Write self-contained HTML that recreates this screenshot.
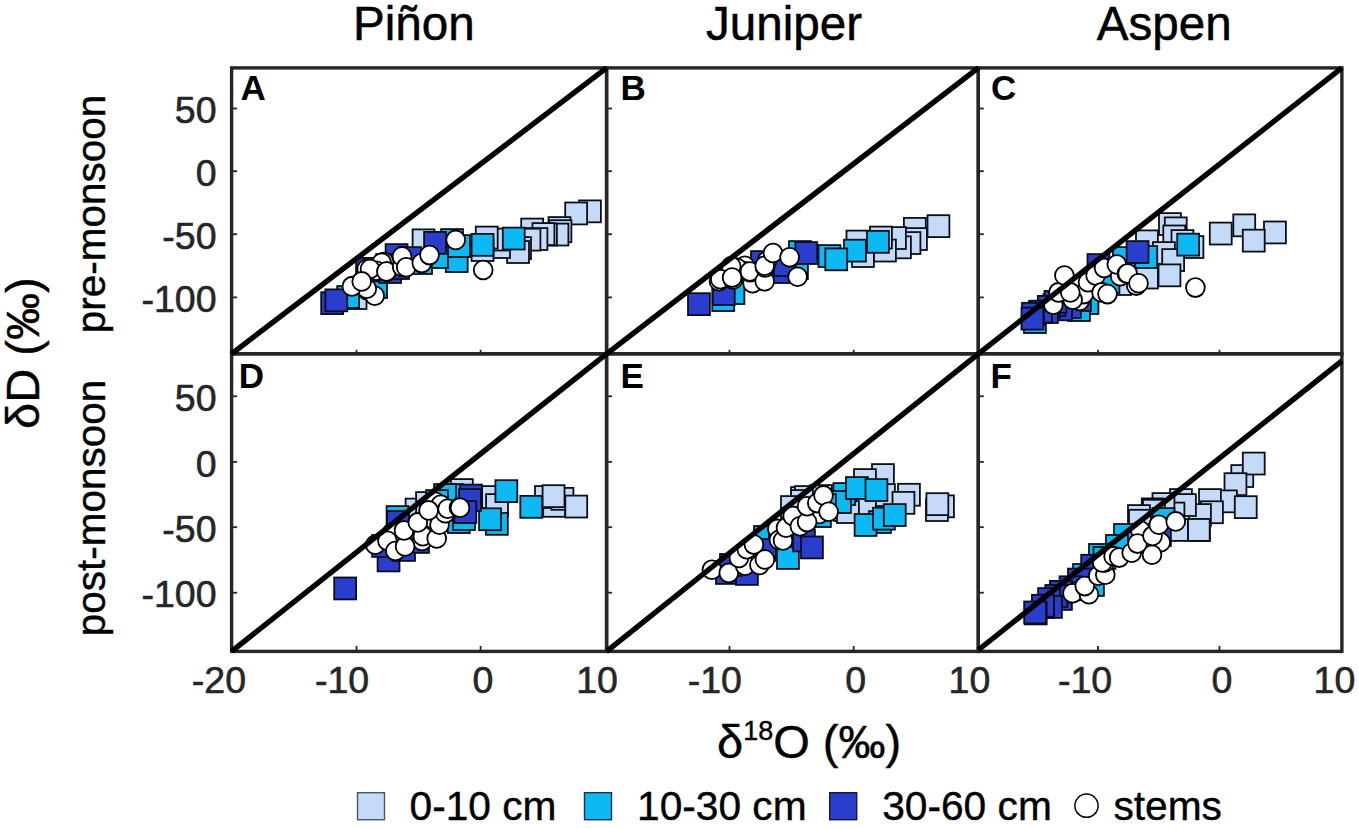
<!DOCTYPE html>
<html><head><meta charset="utf-8"><title>Figure</title>
<style>html,body{margin:0;padding:0;background:#fff;width:1359px;height:828px;overflow:hidden}svg{display:block}</style>
</head><body>
<svg width="1359" height="828" viewBox="0 0 1359 828">
<rect width="1359" height="828" fill="#fff"/>
<defs>
<clipPath id="cp00"><rect x="231.6" y="67.9" width="375.0" height="285.9"/></clipPath>
<clipPath id="cp01"><rect x="606.6" y="67.9" width="371.69999999999993" height="285.9"/></clipPath>
<clipPath id="cp02"><rect x="978.3" y="67.9" width="363.60000000000014" height="285.9"/></clipPath>
<clipPath id="cp10"><rect x="231.6" y="353.8" width="375.0" height="297.59999999999997"/></clipPath>
<clipPath id="cp11"><rect x="606.6" y="353.8" width="371.69999999999993" height="297.59999999999997"/></clipPath>
<clipPath id="cp12"><rect x="978.3" y="353.8" width="363.60000000000014" height="297.59999999999997"/></clipPath>
</defs>
<g clip-path="url(#cp00)" stroke="#0a0e18" stroke-width="1.8">
<rect x="579.0" y="200.4" width="21.9" height="21.9" fill="#c5daf7"/>
<rect x="565.2" y="202.5" width="21.9" height="21.9" fill="#c5daf7"/>
<rect x="548.5" y="217.1" width="21.9" height="21.9" fill="#c5daf7"/>
<rect x="549.5" y="220.2" width="21.9" height="21.9" fill="#c5daf7"/>
<rect x="546.5" y="223.6" width="21.9" height="21.9" fill="#c5daf7"/>
<rect x="535.0" y="223.6" width="21.9" height="21.9" fill="#c5daf7"/>
<rect x="521.2" y="218.6" width="21.9" height="21.9" fill="#c5daf7"/>
<rect x="532.5" y="223.1" width="21.9" height="21.9" fill="#c5daf7"/>
<rect x="525.5" y="228.1" width="21.9" height="21.9" fill="#c5daf7"/>
<rect x="518.5" y="228.7" width="21.9" height="21.9" fill="#c5daf7"/>
<rect x="509.1" y="237.1" width="21.9" height="21.9" fill="#c5daf7"/>
<rect x="507.1" y="241.1" width="21.9" height="21.9" fill="#c5daf7"/>
<rect x="488.1" y="236.1" width="21.9" height="21.9" fill="#c5daf7"/>
<rect x="486.1" y="228.6" width="21.9" height="21.9" fill="#c5daf7"/>
<rect x="475.8" y="226.6" width="21.9" height="21.9" fill="#c5daf7"/>
<rect x="471.6" y="239.1" width="21.9" height="21.9" fill="#c5daf7"/>
<rect x="412.6" y="229.4" width="21.9" height="21.9" fill="#c5daf7"/>
<rect x="344.6" y="287.1" width="21.9" height="21.9" fill="#c5daf7"/>
<rect x="502.8" y="227.6" width="21.9" height="21.9" fill="#0db9f2"/>
<rect x="471.6" y="233.9" width="21.9" height="21.9" fill="#0db9f2"/>
<rect x="445.8" y="250.1" width="21.9" height="21.9" fill="#0db9f2"/>
<rect x="441.1" y="229.1" width="21.9" height="21.9" fill="#0db9f2"/>
<rect x="448.1" y="235.1" width="21.9" height="21.9" fill="#0db9f2"/>
<rect x="426.1" y="246.1" width="21.9" height="21.9" fill="#0db9f2"/>
<rect x="410.1" y="252.1" width="21.9" height="21.9" fill="#0db9f2"/>
<rect x="337.2" y="286.1" width="21.9" height="21.9" fill="#0db9f2"/>
<rect x="365.1" y="276.1" width="21.9" height="21.9" fill="#0db9f2"/>
<rect x="424.1" y="231.9" width="21.9" height="21.9" fill="#2b3dcc"/>
<rect x="385.6" y="244.1" width="21.9" height="21.9" fill="#2b3dcc"/>
<rect x="376.1" y="254.1" width="21.9" height="21.9" fill="#2b3dcc"/>
<rect x="399.1" y="247.1" width="21.9" height="21.9" fill="#2b3dcc"/>
<rect x="356.1" y="257.9" width="21.9" height="21.9" fill="#2b3dcc"/>
<rect x="321.2" y="292.2" width="21.9" height="21.9" fill="#2b3dcc"/>
<rect x="325.4" y="289.4" width="21.9" height="21.9" fill="#2b3dcc"/>
<rect x="379.1" y="261.1" width="21.9" height="21.9" fill="#2b3dcc"/>
<rect x="387.1" y="257.1" width="21.9" height="21.9" fill="#2b3dcc"/>
<circle cx="353.7" cy="285.7" r="9.4" fill="#fff" stroke="#000"/>
<circle cx="366.7" cy="290" r="9.4" fill="#fff" stroke="#000"/>
<circle cx="374.7" cy="295.8" r="9.4" fill="#fff" stroke="#000"/>
<circle cx="366.7" cy="269.1" r="9.4" fill="#fff" stroke="#000"/>
<circle cx="375.4" cy="272" r="9.4" fill="#fff" stroke="#000"/>
<circle cx="384" cy="262" r="9.4" fill="#fff" stroke="#000"/>
<circle cx="381.7" cy="262.8" r="9.4" fill="#fff" stroke="#000"/>
<circle cx="376.2" cy="270.7" r="9.4" fill="#fff" stroke="#000"/>
<circle cx="370" cy="269" r="9.4" fill="#fff" stroke="#000"/>
<circle cx="366.8" cy="288.8" r="9.4" fill="#fff" stroke="#000"/>
<circle cx="351.9" cy="286.4" r="9.4" fill="#fff" stroke="#000"/>
<circle cx="361.7" cy="281.4" r="9.4" fill="#fff" stroke="#000"/>
<circle cx="387" cy="271.6" r="9.4" fill="#fff" stroke="#000"/>
<circle cx="386.4" cy="271.5" r="9.4" fill="#fff" stroke="#000"/>
<circle cx="402.2" cy="266.9" r="9.4" fill="#fff" stroke="#000"/>
<circle cx="402" cy="256.5" r="9.4" fill="#fff" stroke="#000"/>
<circle cx="406.2" cy="267.3" r="9.4" fill="#fff" stroke="#000"/>
<circle cx="421.8" cy="263.1" r="9.4" fill="#fff" stroke="#000"/>
<circle cx="429.5" cy="255.1" r="9.4" fill="#fff" stroke="#000"/>
<circle cx="455.7" cy="239.9" r="9.4" fill="#fff" stroke="#000"/>
<circle cx="483.2" cy="270" r="9.4" fill="#fff" stroke="#000"/>
</g>
<g clip-path="url(#cp01)" stroke="#0a0e18" stroke-width="1.8">
<rect x="927.5" y="215.2" width="21.9" height="21.9" fill="#c5daf7"/>
<rect x="903.9" y="217.9" width="21.9" height="21.9" fill="#c5daf7"/>
<rect x="905.0" y="228.1" width="21.9" height="21.9" fill="#c5daf7"/>
<rect x="898.5" y="232.1" width="21.9" height="21.9" fill="#c5daf7"/>
<rect x="889.0" y="236.4" width="21.9" height="21.9" fill="#c5daf7"/>
<rect x="884.0" y="227.1" width="21.9" height="21.9" fill="#c5daf7"/>
<rect x="874.0" y="239.6" width="21.9" height="21.9" fill="#c5daf7"/>
<rect x="870.0" y="226.6" width="21.9" height="21.9" fill="#c5daf7"/>
<rect x="846.5" y="230.6" width="21.9" height="21.9" fill="#c5daf7"/>
<rect x="852.0" y="245.1" width="21.9" height="21.9" fill="#c5daf7"/>
<rect x="867.0" y="230.9" width="21.9" height="21.9" fill="#0db9f2"/>
<rect x="844.0" y="239.7" width="21.9" height="21.9" fill="#0db9f2"/>
<rect x="818.5" y="245.1" width="21.9" height="21.9" fill="#0db9f2"/>
<rect x="825.3" y="248.4" width="21.9" height="21.9" fill="#0db9f2"/>
<rect x="786.0" y="257.1" width="21.9" height="21.9" fill="#0db9f2"/>
<rect x="712.3" y="289.1" width="21.9" height="21.9" fill="#0db9f2"/>
<rect x="722.5" y="282.1" width="21.9" height="21.9" fill="#0db9f2"/>
<rect x="789.0" y="241.1" width="21.9" height="21.9" fill="#0db9f2"/>
<rect x="688.0" y="293.2" width="21.9" height="21.9" fill="#2b3dcc"/>
<rect x="712.8" y="283.1" width="21.9" height="21.9" fill="#2b3dcc"/>
<rect x="795.3" y="242.1" width="21.9" height="21.9" fill="#2b3dcc"/>
<rect x="751.0" y="251.1" width="21.9" height="21.9" fill="#2b3dcc"/>
<rect x="770.0" y="261.1" width="21.9" height="21.9" fill="#2b3dcc"/>
<rect x="774.0" y="254.1" width="21.9" height="21.9" fill="#2b3dcc"/>
<circle cx="735.7" cy="267.6" r="9.4" fill="#fff" stroke="#000"/>
<circle cx="744.8" cy="265.8" r="9.4" fill="#fff" stroke="#000"/>
<circle cx="744" cy="271" r="9.4" fill="#fff" stroke="#000"/>
<circle cx="737" cy="268" r="9.4" fill="#fff" stroke="#000"/>
<circle cx="731.2" cy="266.2" r="9.4" fill="#fff" stroke="#000"/>
<circle cx="719" cy="281.2" r="9.4" fill="#fff" stroke="#000"/>
<circle cx="720.3" cy="279.2" r="9.4" fill="#fff" stroke="#000"/>
<circle cx="733" cy="279.4" r="9.4" fill="#fff" stroke="#000"/>
<circle cx="732.1" cy="277.6" r="9.4" fill="#fff" stroke="#000"/>
<circle cx="753.8" cy="279.4" r="9.4" fill="#fff" stroke="#000"/>
<circle cx="752.6" cy="283.2" r="9.4" fill="#fff" stroke="#000"/>
<circle cx="750.2" cy="272.2" r="9.4" fill="#fff" stroke="#000"/>
<circle cx="749.9" cy="271.6" r="9.4" fill="#fff" stroke="#000"/>
<circle cx="764.7" cy="281.2" r="9.4" fill="#fff" stroke="#000"/>
<circle cx="765.1" cy="267.4" r="9.4" fill="#fff" stroke="#000"/>
<circle cx="766.8" cy="261.1" r="9.4" fill="#fff" stroke="#000"/>
<circle cx="764.7" cy="265.8" r="9.4" fill="#fff" stroke="#000"/>
<circle cx="773" cy="253" r="9.4" fill="#fff" stroke="#000"/>
<circle cx="789.6" cy="257.3" r="9.4" fill="#fff" stroke="#000"/>
<circle cx="797.6" cy="276.8" r="9.4" fill="#fff" stroke="#000"/>
</g>
<g clip-path="url(#cp02)" stroke="#0a0e18" stroke-width="1.8">
<rect x="1159.0" y="213.1" width="21.9" height="21.9" fill="#c5daf7"/>
<rect x="1164.8" y="217.4" width="21.9" height="21.9" fill="#c5daf7"/>
<rect x="1163.3" y="225.5" width="21.9" height="21.9" fill="#c5daf7"/>
<rect x="1136.0" y="230.4" width="21.9" height="21.9" fill="#c5daf7"/>
<rect x="1171.5" y="230.1" width="21.9" height="21.9" fill="#c5daf7"/>
<rect x="1181.5" y="236.1" width="21.9" height="21.9" fill="#c5daf7"/>
<rect x="1153.0" y="242.1" width="21.9" height="21.9" fill="#c5daf7"/>
<rect x="1162.2" y="249.1" width="21.9" height="21.9" fill="#c5daf7"/>
<rect x="1158.5" y="264.4" width="21.9" height="21.9" fill="#c5daf7"/>
<rect x="1136.0" y="266.6" width="21.9" height="21.9" fill="#c5daf7"/>
<rect x="1109.0" y="273.1" width="21.9" height="21.9" fill="#c5daf7"/>
<rect x="1209.8" y="222.6" width="21.9" height="21.9" fill="#c5daf7"/>
<rect x="1233.3" y="214.4" width="21.9" height="21.9" fill="#c5daf7"/>
<rect x="1264.0" y="221.5" width="21.9" height="21.9" fill="#c5daf7"/>
<rect x="1242.8" y="229.7" width="21.9" height="21.9" fill="#c5daf7"/>
<rect x="1177.2" y="233.7" width="21.9" height="21.9" fill="#0db9f2"/>
<rect x="1135.3" y="246.1" width="21.9" height="21.9" fill="#0db9f2"/>
<rect x="1113.0" y="247.1" width="21.9" height="21.9" fill="#0db9f2"/>
<rect x="1097.5" y="271.1" width="21.9" height="21.9" fill="#0db9f2"/>
<rect x="1076.5" y="292.1" width="21.9" height="21.9" fill="#0db9f2"/>
<rect x="1068.0" y="299.1" width="21.9" height="21.9" fill="#0db9f2"/>
<rect x="1024.0" y="311.1" width="21.9" height="21.9" fill="#0db9f2"/>
<rect x="1126.6" y="241.1" width="21.9" height="21.9" fill="#2b3dcc"/>
<rect x="1087.5" y="254.1" width="21.9" height="21.9" fill="#2b3dcc"/>
<rect x="1069.0" y="289.1" width="21.9" height="21.9" fill="#2b3dcc"/>
<rect x="1059.0" y="296.1" width="21.9" height="21.9" fill="#2b3dcc"/>
<rect x="1050.2" y="298.4" width="21.9" height="21.9" fill="#2b3dcc"/>
<rect x="1043.5" y="294.1" width="21.9" height="21.9" fill="#2b3dcc"/>
<rect x="1044.5" y="290.9" width="21.9" height="21.9" fill="#2b3dcc"/>
<rect x="1037.8" y="295.9" width="21.9" height="21.9" fill="#2b3dcc"/>
<rect x="1036.0" y="301.1" width="21.9" height="21.9" fill="#2b3dcc"/>
<rect x="1029.0" y="301.1" width="21.9" height="21.9" fill="#2b3dcc"/>
<rect x="1030.0" y="300.7" width="21.9" height="21.9" fill="#2b3dcc"/>
<rect x="1022.0" y="302.8" width="21.9" height="21.9" fill="#2b3dcc"/>
<rect x="1021.5" y="307.7" width="21.9" height="21.9" fill="#2b3dcc"/>
<circle cx="1079.6" cy="300.9" r="9.4" fill="#fff" stroke="#000"/>
<circle cx="1083.8" cy="294.1" r="9.4" fill="#fff" stroke="#000"/>
<circle cx="1072.7" cy="299.7" r="9.4" fill="#fff" stroke="#000"/>
<circle cx="1053.3" cy="304.7" r="9.4" fill="#fff" stroke="#000"/>
<circle cx="1058.5" cy="292.4" r="9.4" fill="#fff" stroke="#000"/>
<circle cx="1070.3" cy="292.4" r="9.4" fill="#fff" stroke="#000"/>
<circle cx="1064.4" cy="275.5" r="9.4" fill="#fff" stroke="#000"/>
<circle cx="1088" cy="282.3" r="9.4" fill="#fff" stroke="#000"/>
<circle cx="1095.6" cy="275.5" r="9.4" fill="#fff" stroke="#000"/>
<circle cx="1104.1" cy="267.9" r="9.4" fill="#fff" stroke="#000"/>
<circle cx="1120.2" cy="276.3" r="9.4" fill="#fff" stroke="#000"/>
<circle cx="1116.8" cy="264.5" r="9.4" fill="#fff" stroke="#000"/>
<circle cx="1126.9" cy="273.8" r="9.4" fill="#fff" stroke="#000"/>
<circle cx="1101.6" cy="292.4" r="9.4" fill="#fff" stroke="#000"/>
<circle cx="1107.5" cy="294.1" r="9.4" fill="#fff" stroke="#000"/>
<circle cx="1136.2" cy="285.6" r="9.4" fill="#fff" stroke="#000"/>
<circle cx="1127.6" cy="273.5" r="9.4" fill="#fff" stroke="#000"/>
<circle cx="1138.5" cy="283.3" r="9.4" fill="#fff" stroke="#000"/>
<circle cx="1195.4" cy="287.6" r="9.4" fill="#fff" stroke="#000"/>
</g>
<g clip-path="url(#cp10)" stroke="#0a0e18" stroke-width="1.8">
<rect x="543.2" y="494.9" width="21.9" height="21.9" fill="#c5daf7"/>
<rect x="535.0" y="486.1" width="21.9" height="21.9" fill="#c5daf7"/>
<rect x="551.5" y="487.9" width="21.9" height="21.9" fill="#c5daf7"/>
<rect x="565.3" y="495.6" width="21.9" height="21.9" fill="#c5daf7"/>
<rect x="542.6" y="485.2" width="21.9" height="21.9" fill="#c5daf7"/>
<rect x="482.1" y="486.1" width="21.9" height="21.9" fill="#c5daf7"/>
<rect x="486.1" y="494.1" width="21.9" height="21.9" fill="#c5daf7"/>
<rect x="450.9" y="479.1" width="21.9" height="21.9" fill="#c5daf7"/>
<rect x="405.6" y="498.6" width="21.9" height="21.9" fill="#c5daf7"/>
<rect x="416.1" y="492.1" width="21.9" height="21.9" fill="#c5daf7"/>
<rect x="520.3" y="495.9" width="21.9" height="21.9" fill="#0db9f2"/>
<rect x="495.4" y="480.2" width="21.9" height="21.9" fill="#0db9f2"/>
<rect x="485.9" y="512.9" width="21.9" height="21.9" fill="#0db9f2"/>
<rect x="479.1" y="508.3" width="21.9" height="21.9" fill="#0db9f2"/>
<rect x="447.9" y="511.1" width="21.9" height="21.9" fill="#0db9f2"/>
<rect x="453.1" y="508.1" width="21.9" height="21.9" fill="#0db9f2"/>
<rect x="441.1" y="484.1" width="21.9" height="21.9" fill="#0db9f2"/>
<rect x="434.1" y="484.1" width="21.9" height="21.9" fill="#0db9f2"/>
<rect x="426.1" y="490.1" width="21.9" height="21.9" fill="#0db9f2"/>
<rect x="386.6" y="506.1" width="21.9" height="21.9" fill="#0db9f2"/>
<rect x="460.1" y="484.6" width="21.9" height="21.9" fill="#2b3dcc"/>
<rect x="459.1" y="489.1" width="21.9" height="21.9" fill="#2b3dcc"/>
<rect x="454.4" y="501.1" width="21.9" height="21.9" fill="#2b3dcc"/>
<rect x="387.1" y="511.1" width="21.9" height="21.9" fill="#2b3dcc"/>
<rect x="377.6" y="549.5" width="21.9" height="21.9" fill="#2b3dcc"/>
<rect x="372.1" y="535.0" width="21.9" height="21.9" fill="#2b3dcc"/>
<rect x="393.1" y="539.0" width="21.9" height="21.9" fill="#2b3dcc"/>
<rect x="407.1" y="531.0" width="21.9" height="21.9" fill="#2b3dcc"/>
<rect x="334.2" y="577.5" width="21.9" height="21.9" fill="#2b3dcc"/>
<circle cx="392" cy="532.8" r="9.4" fill="#fff" stroke="#000"/>
<circle cx="422" cy="541" r="9.4" fill="#fff" stroke="#000"/>
<circle cx="375.3" cy="544.8" r="9.4" fill="#fff" stroke="#000"/>
<circle cx="387.4" cy="540.8" r="9.4" fill="#fff" stroke="#000"/>
<circle cx="395.4" cy="551.1" r="9.4" fill="#fff" stroke="#000"/>
<circle cx="405.1" cy="546.5" r="9.4" fill="#fff" stroke="#000"/>
<circle cx="404" cy="530.5" r="9.4" fill="#fff" stroke="#000"/>
<circle cx="422.9" cy="536.2" r="9.4" fill="#fff" stroke="#000"/>
<circle cx="436.7" cy="538.5" r="9.4" fill="#fff" stroke="#000"/>
<circle cx="432.7" cy="519" r="9.4" fill="#fff" stroke="#000"/>
<circle cx="417.8" cy="522.4" r="9.4" fill="#fff" stroke="#000"/>
<circle cx="439.5" cy="524.7" r="9.4" fill="#fff" stroke="#000"/>
<circle cx="435" cy="501.8" r="9.4" fill="#fff" stroke="#000"/>
<circle cx="440.7" cy="504.7" r="9.4" fill="#fff" stroke="#000"/>
<circle cx="445.3" cy="513.3" r="9.4" fill="#fff" stroke="#000"/>
<circle cx="447.6" cy="508.7" r="9.4" fill="#fff" stroke="#000"/>
<circle cx="459" cy="507.5" r="9.4" fill="#fff" stroke="#000"/>
<circle cx="428.6" cy="510.4" r="9.4" fill="#fff" stroke="#000"/>
<circle cx="460" cy="507.7" r="9.4" fill="#fff" stroke="#000"/>
</g>
<g clip-path="url(#cp11)" stroke="#0a0e18" stroke-width="1.8">
<rect x="872.0" y="464.1" width="21.9" height="21.9" fill="#c5daf7"/>
<rect x="854.0" y="469.1" width="21.9" height="21.9" fill="#c5daf7"/>
<rect x="873.0" y="484.1" width="21.9" height="21.9" fill="#c5daf7"/>
<rect x="898.0" y="483.8" width="21.9" height="21.9" fill="#c5daf7"/>
<rect x="892.5" y="491.9" width="21.9" height="21.9" fill="#c5daf7"/>
<rect x="854.0" y="494.1" width="21.9" height="21.9" fill="#c5daf7"/>
<rect x="834.0" y="499.1" width="21.9" height="21.9" fill="#c5daf7"/>
<rect x="837.0" y="501.1" width="21.9" height="21.9" fill="#c5daf7"/>
<rect x="932.0" y="495.4" width="21.9" height="21.9" fill="#c5daf7"/>
<rect x="926.0" y="499.1" width="21.9" height="21.9" fill="#c5daf7"/>
<rect x="926.4" y="493.2" width="21.9" height="21.9" fill="#c5daf7"/>
<rect x="791.0" y="487.1" width="21.9" height="21.9" fill="#c5daf7"/>
<rect x="795.0" y="486.1" width="21.9" height="21.9" fill="#c5daf7"/>
<rect x="810.0" y="485.1" width="21.9" height="21.9" fill="#c5daf7"/>
<rect x="791.0" y="490.1" width="21.9" height="21.9" fill="#c5daf7"/>
<rect x="781.0" y="496.1" width="21.9" height="21.9" fill="#c5daf7"/>
<rect x="833.4" y="483.1" width="21.9" height="21.9" fill="#0db9f2"/>
<rect x="829.0" y="491.1" width="21.9" height="21.9" fill="#0db9f2"/>
<rect x="846.0" y="477.1" width="21.9" height="21.9" fill="#0db9f2"/>
<rect x="865.5" y="479.1" width="21.9" height="21.9" fill="#0db9f2"/>
<rect x="869.0" y="511.1" width="21.9" height="21.9" fill="#0db9f2"/>
<rect x="854.6" y="514.0" width="21.9" height="21.9" fill="#0db9f2"/>
<rect x="873.0" y="507.7" width="21.9" height="21.9" fill="#0db9f2"/>
<rect x="883.8" y="504.1" width="21.9" height="21.9" fill="#0db9f2"/>
<rect x="814.0" y="494.1" width="21.9" height="21.9" fill="#0db9f2"/>
<rect x="809.0" y="505.1" width="21.9" height="21.9" fill="#0db9f2"/>
<rect x="754.0" y="526.0" width="21.9" height="21.9" fill="#0db9f2"/>
<rect x="769.0" y="534.0" width="21.9" height="21.9" fill="#0db9f2"/>
<rect x="777.0" y="547.0" width="21.9" height="21.9" fill="#0db9f2"/>
<rect x="716.0" y="562.0" width="21.9" height="21.9" fill="#2b3dcc"/>
<rect x="736.0" y="563.0" width="21.9" height="21.9" fill="#2b3dcc"/>
<rect x="720.0" y="554.0" width="21.9" height="21.9" fill="#2b3dcc"/>
<rect x="754.0" y="539.0" width="21.9" height="21.9" fill="#2b3dcc"/>
<rect x="793.0" y="529.5" width="21.9" height="21.9" fill="#2b3dcc"/>
<rect x="801.0" y="536.5" width="21.9" height="21.9" fill="#2b3dcc"/>
<circle cx="819.4" cy="513.9" r="9.4" fill="#fff" stroke="#000"/>
<circle cx="711.9" cy="569.7" r="9.4" fill="#fff" stroke="#000"/>
<circle cx="728.8" cy="572.9" r="9.4" fill="#fff" stroke="#000"/>
<circle cx="745.2" cy="565.8" r="9.4" fill="#fff" stroke="#000"/>
<circle cx="739" cy="558" r="9.4" fill="#fff" stroke="#000"/>
<circle cx="746.8" cy="549.3" r="9.4" fill="#fff" stroke="#000"/>
<circle cx="753.9" cy="544.6" r="9.4" fill="#fff" stroke="#000"/>
<circle cx="759.4" cy="565" r="9.4" fill="#fff" stroke="#000"/>
<circle cx="764.9" cy="559.5" r="9.4" fill="#fff" stroke="#000"/>
<circle cx="777.4" cy="528.9" r="9.4" fill="#fff" stroke="#000"/>
<circle cx="779" cy="539.9" r="9.4" fill="#fff" stroke="#000"/>
<circle cx="783" cy="540.5" r="9.4" fill="#fff" stroke="#000"/>
<circle cx="786" cy="527.7" r="9.4" fill="#fff" stroke="#000"/>
<circle cx="792.7" cy="515.9" r="9.4" fill="#fff" stroke="#000"/>
<circle cx="799.9" cy="526.2" r="9.4" fill="#fff" stroke="#000"/>
<circle cx="807.1" cy="522.1" r="9.4" fill="#fff" stroke="#000"/>
<circle cx="807.1" cy="506.2" r="9.4" fill="#fff" stroke="#000"/>
<circle cx="817.3" cy="503.1" r="9.4" fill="#fff" stroke="#000"/>
<circle cx="823.5" cy="495.4" r="9.4" fill="#fff" stroke="#000"/>
<circle cx="828.6" cy="511.8" r="9.4" fill="#fff" stroke="#000"/>
</g>
<g clip-path="url(#cp12)" stroke="#0a0e18" stroke-width="1.8">
<rect x="1231.3" y="465.1" width="21.9" height="21.9" fill="#c5daf7"/>
<rect x="1242.8" y="452.6" width="21.9" height="21.9" fill="#c5daf7"/>
<rect x="1224.5" y="473.2" width="21.9" height="21.9" fill="#c5daf7"/>
<rect x="1215.0" y="490.4" width="21.9" height="21.9" fill="#c5daf7"/>
<rect x="1199.0" y="489.1" width="21.9" height="21.9" fill="#c5daf7"/>
<rect x="1234.8" y="496.2" width="21.9" height="21.9" fill="#c5daf7"/>
<rect x="1201.0" y="501.3" width="21.9" height="21.9" fill="#c5daf7"/>
<rect x="1189.0" y="504.1" width="21.9" height="21.9" fill="#c5daf7"/>
<rect x="1188.0" y="519.0" width="21.9" height="21.9" fill="#c5daf7"/>
<rect x="1187.8" y="519.0" width="21.9" height="21.9" fill="#c5daf7"/>
<rect x="1170.0" y="489.1" width="21.9" height="21.9" fill="#c5daf7"/>
<rect x="1174.0" y="494.1" width="21.9" height="21.9" fill="#c5daf7"/>
<rect x="1166.0" y="519.0" width="21.9" height="21.9" fill="#c5daf7"/>
<rect x="1162.5" y="502.6" width="21.9" height="21.9" fill="#c5daf7"/>
<rect x="1152.5" y="493.1" width="21.9" height="21.9" fill="#c5daf7"/>
<rect x="1141.8" y="498.4" width="21.9" height="21.9" fill="#c5daf7"/>
<rect x="1143.0" y="499.8" width="21.9" height="21.9" fill="#c5daf7"/>
<rect x="1128.0" y="505.1" width="21.9" height="21.9" fill="#c5daf7"/>
<rect x="1129.0" y="509.8" width="21.9" height="21.9" fill="#c5daf7"/>
<rect x="1152.5" y="508.1" width="21.9" height="21.9" fill="#0db9f2"/>
<rect x="1114.0" y="524.0" width="21.9" height="21.9" fill="#0db9f2"/>
<rect x="1106.0" y="535.0" width="21.9" height="21.9" fill="#0db9f2"/>
<rect x="1089.0" y="544.0" width="21.9" height="21.9" fill="#0db9f2"/>
<rect x="1093.5" y="547.0" width="21.9" height="21.9" fill="#0db9f2"/>
<rect x="1073.0" y="564.0" width="21.9" height="21.9" fill="#0db9f2"/>
<rect x="1082.0" y="574.0" width="21.9" height="21.9" fill="#0db9f2"/>
<rect x="1149.0" y="524.0" width="21.9" height="21.9" fill="#2b3dcc"/>
<rect x="1081.2" y="554.8" width="21.9" height="21.9" fill="#2b3dcc"/>
<rect x="1068.0" y="568.6" width="21.9" height="21.9" fill="#2b3dcc"/>
<rect x="1059.6" y="576.3" width="21.9" height="21.9" fill="#2b3dcc"/>
<rect x="1050.0" y="588.0" width="21.9" height="21.9" fill="#2b3dcc"/>
<rect x="1050.0" y="580.9" width="21.9" height="21.9" fill="#2b3dcc"/>
<rect x="1045.3" y="585.0" width="21.9" height="21.9" fill="#2b3dcc"/>
<rect x="1038.1" y="588.1" width="21.9" height="21.9" fill="#2b3dcc"/>
<rect x="1040.0" y="596.0" width="21.9" height="21.9" fill="#2b3dcc"/>
<rect x="1032.0" y="596.0" width="21.9" height="21.9" fill="#2b3dcc"/>
<rect x="1032.0" y="594.8" width="21.9" height="21.9" fill="#2b3dcc"/>
<rect x="1024.8" y="602.5" width="21.9" height="21.9" fill="#2b3dcc"/>
<rect x="1024.2" y="601.5" width="21.9" height="21.9" fill="#2b3dcc"/>
<circle cx="1077.6" cy="591.2" r="9.4" fill="#fff" stroke="#000"/>
<circle cx="1072.5" cy="593.3" r="9.4" fill="#fff" stroke="#000"/>
<circle cx="1088.9" cy="594.3" r="9.4" fill="#fff" stroke="#000"/>
<circle cx="1084.8" cy="586.1" r="9.4" fill="#fff" stroke="#000"/>
<circle cx="1098.2" cy="575.8" r="9.4" fill="#fff" stroke="#000"/>
<circle cx="1105.3" cy="574.8" r="9.4" fill="#fff" stroke="#000"/>
<circle cx="1104.7" cy="562.5" r="9.4" fill="#fff" stroke="#000"/>
<circle cx="1102.3" cy="562.5" r="9.4" fill="#fff" stroke="#000"/>
<circle cx="1113.6" cy="556.3" r="9.4" fill="#fff" stroke="#000"/>
<circle cx="1119.2" cy="557.6" r="9.4" fill="#fff" stroke="#000"/>
<circle cx="1131.7" cy="552.8" r="9.4" fill="#fff" stroke="#000"/>
<circle cx="1146.2" cy="540.2" r="9.4" fill="#fff" stroke="#000"/>
<circle cx="1160.7" cy="542.2" r="9.4" fill="#fff" stroke="#000"/>
<circle cx="1152" cy="554.7" r="9.4" fill="#fff" stroke="#000"/>
<circle cx="1140.4" cy="530.6" r="9.4" fill="#fff" stroke="#000"/>
<circle cx="1137.5" cy="543.6" r="9.4" fill="#fff" stroke="#000"/>
<circle cx="1152.5" cy="535.9" r="9.4" fill="#fff" stroke="#000"/>
<circle cx="1158.8" cy="524.8" r="9.4" fill="#fff" stroke="#000"/>
<circle cx="1175.7" cy="521.4" r="9.4" fill="#fff" stroke="#000"/>
</g>
<rect x="231.6" y="67.9" width="375.0" height="285.9" fill="none" stroke="#262626" stroke-width="3.4"/>
<rect x="606.6" y="67.9" width="371.69999999999993" height="285.9" fill="none" stroke="#262626" stroke-width="3.4"/>
<rect x="978.3" y="67.9" width="363.60000000000014" height="285.9" fill="none" stroke="#262626" stroke-width="3.4"/>
<rect x="231.6" y="353.8" width="375.0" height="297.59999999999997" fill="none" stroke="#262626" stroke-width="3.4"/>
<rect x="606.6" y="353.8" width="371.69999999999993" height="297.59999999999997" fill="none" stroke="#262626" stroke-width="3.4"/>
<rect x="978.3" y="353.8" width="363.60000000000014" height="297.59999999999997" fill="none" stroke="#262626" stroke-width="3.4"/>
<line x1="231.6" y1="353.8" x2="606.6" y2="67.9" stroke="#000" stroke-width="5.4"/>
<line x1="606.6" y1="353.8" x2="978.3" y2="67.9" stroke="#000" stroke-width="5.4"/>
<line x1="978.3" y1="353.8" x2="1341.9" y2="67.9" stroke="#000" stroke-width="5.4"/>
<line x1="231.6" y1="651.4" x2="606.6" y2="353.8" stroke="#000" stroke-width="5.4"/>
<line x1="606.6" y1="651.4" x2="978.3" y2="353.8" stroke="#000" stroke-width="5.4"/>
<line x1="978.3" y1="650.0" x2="1341.9" y2="360.8" stroke="#000" stroke-width="5.4"/>
<line x1="231.6" y1="108.5" x2="237.1" y2="108.5" stroke="#262626" stroke-width="1.8"/>
<line x1="231.6" y1="171.2" x2="237.1" y2="171.2" stroke="#262626" stroke-width="1.8"/>
<line x1="231.6" y1="234.2" x2="237.1" y2="234.2" stroke="#262626" stroke-width="1.8"/>
<line x1="231.6" y1="297.4" x2="237.1" y2="297.4" stroke="#262626" stroke-width="1.8"/>
<line x1="606.6" y1="108.5" x2="612.1" y2="108.5" stroke="#262626" stroke-width="1.8"/>
<line x1="606.6" y1="171.2" x2="612.1" y2="171.2" stroke="#262626" stroke-width="1.8"/>
<line x1="606.6" y1="234.2" x2="612.1" y2="234.2" stroke="#262626" stroke-width="1.8"/>
<line x1="606.6" y1="297.4" x2="612.1" y2="297.4" stroke="#262626" stroke-width="1.8"/>
<line x1="978.3" y1="108.5" x2="983.8" y2="108.5" stroke="#262626" stroke-width="1.8"/>
<line x1="978.3" y1="171.2" x2="983.8" y2="171.2" stroke="#262626" stroke-width="1.8"/>
<line x1="978.3" y1="234.2" x2="983.8" y2="234.2" stroke="#262626" stroke-width="1.8"/>
<line x1="978.3" y1="297.4" x2="983.8" y2="297.4" stroke="#262626" stroke-width="1.8"/>
<line x1="231.6" y1="396.3" x2="237.1" y2="396.3" stroke="#262626" stroke-width="1.8"/>
<line x1="231.6" y1="461.9" x2="237.1" y2="461.9" stroke="#262626" stroke-width="1.8"/>
<line x1="231.6" y1="527.2" x2="237.1" y2="527.2" stroke="#262626" stroke-width="1.8"/>
<line x1="231.6" y1="592.7" x2="237.1" y2="592.7" stroke="#262626" stroke-width="1.8"/>
<line x1="606.6" y1="396.3" x2="612.1" y2="396.3" stroke="#262626" stroke-width="1.8"/>
<line x1="606.6" y1="461.9" x2="612.1" y2="461.9" stroke="#262626" stroke-width="1.8"/>
<line x1="606.6" y1="527.2" x2="612.1" y2="527.2" stroke="#262626" stroke-width="1.8"/>
<line x1="606.6" y1="592.7" x2="612.1" y2="592.7" stroke="#262626" stroke-width="1.8"/>
<line x1="978.3" y1="396.3" x2="983.8" y2="396.3" stroke="#262626" stroke-width="1.8"/>
<line x1="978.3" y1="461.9" x2="983.8" y2="461.9" stroke="#262626" stroke-width="1.8"/>
<line x1="978.3" y1="527.2" x2="983.8" y2="527.2" stroke="#262626" stroke-width="1.8"/>
<line x1="978.3" y1="592.7" x2="983.8" y2="592.7" stroke="#262626" stroke-width="1.8"/>
<line x1="356.5" y1="353.8" x2="356.5" y2="349.8" stroke="#262626" stroke-width="1.8"/>
<line x1="356.5" y1="651.4" x2="356.5" y2="645.9" stroke="#262626" stroke-width="1.8"/>
<line x1="480.6" y1="353.8" x2="480.6" y2="349.8" stroke="#262626" stroke-width="1.8"/>
<line x1="480.6" y1="651.4" x2="480.6" y2="645.9" stroke="#262626" stroke-width="1.8"/>
<line x1="729.5" y1="353.8" x2="729.5" y2="349.8" stroke="#262626" stroke-width="1.8"/>
<line x1="729.5" y1="651.4" x2="729.5" y2="645.9" stroke="#262626" stroke-width="1.8"/>
<line x1="853.7" y1="353.8" x2="853.7" y2="349.8" stroke="#262626" stroke-width="1.8"/>
<line x1="853.7" y1="651.4" x2="853.7" y2="645.9" stroke="#262626" stroke-width="1.8"/>
<line x1="1098" y1="353.8" x2="1098" y2="349.8" stroke="#262626" stroke-width="1.8"/>
<line x1="1098" y1="651.4" x2="1098" y2="645.9" stroke="#262626" stroke-width="1.8"/>
<line x1="1219.5" y1="353.8" x2="1219.5" y2="349.8" stroke="#262626" stroke-width="1.8"/>
<line x1="1219.5" y1="651.4" x2="1219.5" y2="645.9" stroke="#262626" stroke-width="1.8"/>
<text x="216.5" y="123.2" text-anchor="end" style="font-family:'Liberation Sans',sans-serif;font-size:37.5px" fill="#262626" stroke="#262626" stroke-width="0.6">50</text>
<text x="216.5" y="185.9" text-anchor="end" style="font-family:'Liberation Sans',sans-serif;font-size:37.5px" fill="#262626" stroke="#262626" stroke-width="0.6">0</text>
<text x="216.5" y="248.9" text-anchor="end" style="font-family:'Liberation Sans',sans-serif;font-size:37.5px" fill="#262626" stroke="#262626" stroke-width="0.6">-50</text>
<text x="216.5" y="312.1" text-anchor="end" style="font-family:'Liberation Sans',sans-serif;font-size:37.5px" fill="#262626" stroke="#262626" stroke-width="0.6">-100</text>
<text x="216.5" y="411.0" text-anchor="end" style="font-family:'Liberation Sans',sans-serif;font-size:37.5px" fill="#262626" stroke="#262626" stroke-width="0.6">50</text>
<text x="216.5" y="476.6" text-anchor="end" style="font-family:'Liberation Sans',sans-serif;font-size:37.5px" fill="#262626" stroke="#262626" stroke-width="0.6">0</text>
<text x="216.5" y="541.9" text-anchor="end" style="font-family:'Liberation Sans',sans-serif;font-size:37.5px" fill="#262626" stroke="#262626" stroke-width="0.6">-50</text>
<text x="216.5" y="607.4" text-anchor="end" style="font-family:'Liberation Sans',sans-serif;font-size:37.5px" fill="#262626" stroke="#262626" stroke-width="0.6">-100</text>
<text x="218.9" y="693.3" text-anchor="middle" style="font-family:'Liberation Sans',sans-serif;font-size:37.5px" fill="#262626" stroke="#262626" stroke-width="0.6">-20</text>
<text x="342.0" y="693.3" text-anchor="middle" style="font-family:'Liberation Sans',sans-serif;font-size:37.5px" fill="#262626" stroke="#262626" stroke-width="0.6">-10</text>
<text x="483.0" y="693.3" text-anchor="middle" style="font-family:'Liberation Sans',sans-serif;font-size:37.5px" fill="#262626" stroke="#262626" stroke-width="0.6">0</text>
<text x="597.0" y="693.3" text-anchor="middle" style="font-family:'Liberation Sans',sans-serif;font-size:37.5px" fill="#262626" stroke="#262626" stroke-width="0.6">10</text>
<text x="714.8" y="693.3" text-anchor="middle" style="font-family:'Liberation Sans',sans-serif;font-size:37.5px" fill="#262626" stroke="#262626" stroke-width="0.6">-10</text>
<text x="855.8" y="693.3" text-anchor="middle" style="font-family:'Liberation Sans',sans-serif;font-size:37.5px" fill="#262626" stroke="#262626" stroke-width="0.6">0</text>
<text x="969.4" y="693.3" text-anchor="middle" style="font-family:'Liberation Sans',sans-serif;font-size:37.5px" fill="#262626" stroke="#262626" stroke-width="0.6">10</text>
<text x="1085" y="693.3" text-anchor="middle" style="font-family:'Liberation Sans',sans-serif;font-size:37.5px" fill="#262626" stroke="#262626" stroke-width="0.6">-10</text>
<text x="1221.9" y="693.3" text-anchor="middle" style="font-family:'Liberation Sans',sans-serif;font-size:37.5px" fill="#262626" stroke="#262626" stroke-width="0.6">0</text>
<text x="1334.4" y="693.3" text-anchor="middle" style="font-family:'Liberation Sans',sans-serif;font-size:37.5px" fill="#262626" stroke="#262626" stroke-width="0.6">10</text>
<text x="413.8" y="39.8" text-anchor="middle" style="font-family:'Liberation Sans',sans-serif;font-size:47.6px" fill="#000" stroke="#000" stroke-width="0.5">Piñon</text>
<text x="784.0" y="39.8" text-anchor="middle" style="font-family:'Liberation Sans',sans-serif;font-size:47.6px" fill="#000" stroke="#000" stroke-width="0.5">Juniper</text>
<text x="1164.2" y="39.8" text-anchor="middle" style="font-family:'Liberation Sans',sans-serif;font-size:47.6px" fill="#000" stroke="#000" stroke-width="0.5">Aspen</text>
<text x="240.4" y="99.7" style="font-family:'Liberation Sans',sans-serif;font-size:35px;font-weight:bold" fill="#000">A</text>
<text x="620.4" y="99.7" style="font-family:'Liberation Sans',sans-serif;font-size:35px;font-weight:bold" fill="#000">B</text>
<text x="991.1" y="99.7" style="font-family:'Liberation Sans',sans-serif;font-size:35px;font-weight:bold" fill="#000">C</text>
<text x="238.8" y="387.6" style="font-family:'Liberation Sans',sans-serif;font-size:35px;font-weight:bold" fill="#000">D</text>
<text x="620.4" y="387.6" style="font-family:'Liberation Sans',sans-serif;font-size:35px;font-weight:bold" fill="#000">E</text>
<text x="990.6" y="387.6" style="font-family:'Liberation Sans',sans-serif;font-size:35px;font-weight:bold" fill="#000">F</text>
<text transform="translate(104.6,214) rotate(-90)" text-anchor="middle" style="font-family:'Liberation Sans',sans-serif;font-size:40.5px" fill="#000" stroke="#000" stroke-width="0.4">pre-monsoon</text>
<text transform="translate(104.6,508) rotate(-90)" text-anchor="middle" style="font-family:'Liberation Sans',sans-serif;font-size:40.5px" fill="#000" stroke="#000" stroke-width="0.4">post-monsoon</text>
<text transform="translate(39.1,353.2) rotate(-90)" text-anchor="middle" style="font-family:'Liberation Sans',sans-serif;font-size:47px" fill="#000" stroke="#000" stroke-width="0.4">δD (‰)</text>
<text x="717" y="757.5" style="font-family:'Liberation Sans',sans-serif;font-size:47px" fill="#000" stroke="#000" stroke-width="0.4">δ<tspan dy="-18" style="font-size:27px">18</tspan><tspan dy="18">O (‰)</tspan></text>
<rect x="357.5" y="792.7" width="27" height="27" fill="#c5daf7" stroke="#4a5568" stroke-width="1.4"/>
<text x="409.5" y="820.3" style="font-family:'Liberation Sans',sans-serif;font-size:40.7px" fill="#000" stroke="#000" stroke-width="0.4">0-10 cm</text>
<rect x="584.5" y="792.7" width="27" height="27" fill="#0db9f2" stroke="#1a3050" stroke-width="1.4"/>
<text x="637" y="820.3" style="font-family:'Liberation Sans',sans-serif;font-size:40.7px" fill="#000" stroke="#000" stroke-width="0.4">10-30 cm</text>
<rect x="829.7" y="792.7" width="27" height="27" fill="#2b3dcc" stroke="#101840" stroke-width="1.4"/>
<text x="882.2" y="820.3" style="font-family:'Liberation Sans',sans-serif;font-size:40.7px" fill="#000" stroke="#000" stroke-width="0.4">30-60 cm</text>
<circle cx="1086.5" cy="805.7" r="11.6" fill="#fff" stroke="#000" stroke-width="1.5"/>
<text x="1113.4" y="820.3" style="font-family:'Liberation Sans',sans-serif;font-size:40.7px" fill="#000" stroke="#000" stroke-width="0.4">stems</text>
</svg>
</body></html>
